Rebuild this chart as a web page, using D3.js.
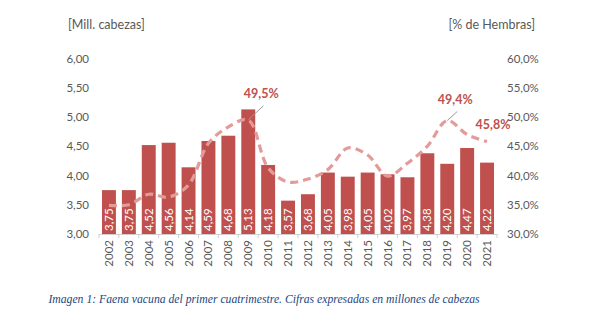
<!DOCTYPE html>
<html lang="es">
<meta charset="utf-8">
<head>
	<title>Faena vacuna</title>
	<script src="https://cdn.jsdelivr.net/npm/d3@7"></script>
</head>
<style type="text/css">
	body { margin: 0; background: white; }
	.axisTitle { font-family: Lato, sans-serif; font-size: 12.5px; fill: #595959; }
	.tick text { font-family: Lato, sans-serif; font-size: 11.5px; fill: #595959; }
	.yearLabel { font-family: Lato, sans-serif; font-size: 11.5px; fill: #595959; }
	.barLabel { font-family: Lato, sans-serif; font-size: 11.5px; fill: white; }
	.pctLabel { font-family: Lato, sans-serif; font-size: 12.5px; font-weight: 700; fill: #c0504d; }
	.caption { font-family: "Liberation Serif", serif; font-style: italic; font-size: 11.7px; fill: #24467e; }
	.bar { fill: #c0504d; }
	.line { fill: none; stroke: #e39b99; stroke-width: 3.2; stroke-dasharray: 8,5; }
	.leader { stroke: #9a9a9a; stroke-width: 1; }
</style>
<body>
<script type="text/javascript">

	var years = ["2002","2003","2004","2005","2006","2007","2008","2009","2010","2011",
				 "2012","2013","2014","2015","2016","2017","2018","2019","2020","2021"];
	var heads = [3.75, 3.75, 4.52, 4.56, 4.14, 4.59, 4.68, 5.13, 4.18, 3.57,
				 3.68, 4.05, 3.98, 4.05, 4.02, 3.97, 4.38, 4.20, 4.47, 4.22];
	var females = [34.9, 35.0, 36.8, 36.3, 38.4, 45.5, 48.3, 49.5, 41.3, 38.9,
				   39.4, 41.0, 44.7, 43.5, 39.9, 42.1, 45.0, 49.4, 47.0, 45.8];
	var leftTicks = [3.0, 3.5, 4.0, 4.5, 5.0, 5.5, 6.0];
	var rightTicks = [30, 35, 40, 45, 50, 55, 60];
	var labelled = ["2009", "2019", "2021"];

	var width = 600, height = 334;
	var x0 = 99, x1 = 497, yTop = 58.5, yBot = 234;

	var svg = d3.select("body").append("svg")
				.attr("width", width)
				.attr("height", height);

	var x = d3.scaleBand().domain(years).range([x0, x1]).paddingInner(0.3).paddingOuter(0.15);
	var yL = d3.scaleLinear().domain([3, 6]).range([yBot, yTop]);
	var yR = d3.scaleLinear().domain([30, 60]).range([yBot, yTop]);

	var fmt = function(v, d) { return v.toFixed(d).replace(".", ","); };

	// left axis
	svg.append("g")
	   .attr("transform", "translate(" + (x0 - 6) + ",0)")
	   .call(d3.axisLeft(yL).tickValues(leftTicks).tickSize(0).tickPadding(4).tickFormat(function(d) { return fmt(d, 2); }))
	   .call(function(g) { g.select(".domain").remove(); });

	// right axis
	svg.append("g")
	   .attr("transform", "translate(" + (x1 + 6) + ",0)")
	   .call(d3.axisRight(yR).tickValues(rightTicks).tickSize(0).tickPadding(4).tickFormat(function(d) { return fmt(d, 1) + "%"; }))
	   .call(function(g) { g.select(".domain").remove(); });

	svg.append("text").attr("class", "axisTitle").attr("x", 68).attr("y", 29).text("[Mill. cabezas]");
	svg.append("text").attr("class", "axisTitle").attr("x", 535).attr("y", 29).attr("text-anchor", "end").text("[% de Hembras]");

	// bars
	svg.selectAll(".bar").data(years).enter().append("rect")
	   .attr("class", "bar")
	   .attr("x", function(d) { return x(d); })
	   .attr("width", x.bandwidth())
	   .attr("y", function(d, i) { return yL(heads[i]); })
	   .attr("height", function(d, i) { return yBot - yL(heads[i]); });

	svg.selectAll(".barLabel").data(years).enter().append("text")
	   .attr("class", "barLabel")
	   .attr("transform", function(d) { return "translate(" + (x(d) + x.bandwidth() / 2 + 4) + "," + (yBot - 3) + ")rotate(-90)"; })
	   .text(function(d, i) { return fmt(heads[i], 2); });

	// baseline with ticks
	svg.append("line").attr("x1", x0).attr("x2", x1).attr("y1", yBot + 0.5).attr("y2", yBot + 0.5)
	   .attr("stroke", "#d0d0d0").attr("stroke-width", 1);
	var step = x.step();
	svg.selectAll(".xtick").data(d3.range(years.length + 1)).enter().append("line")
	   .attr("x1", function(i) { return x0 + i * step; })
	   .attr("x2", function(i) { return x0 + i * step; })
	   .attr("y1", yBot).attr("y2", yBot + 4)
	   .attr("stroke", "#d0d0d0");

	svg.selectAll(".yearLabel").data(years).enter().append("text")
	   .attr("class", "yearLabel")
	   .attr("text-anchor", "end")
	   .attr("transform", function(d) { return "translate(" + (x(d) + x.bandwidth() / 2 + 4) + "," + (yBot + 6) + ")rotate(-90)"; })
	   .text(function(d) { return d; });

	// female share line
	var line = d3.line()
				 .x(function(d, i) { return x(years[i]) + x.bandwidth() / 2; })
				 .y(function(d) { return yR(d); })
				 .curve(d3.curveCatmullRom.alpha(0.5));

	svg.append("path").datum(females).attr("class", "line").attr("d", line);

	// labels for selected points
	var offsets = { "2009": [13, -22, 0, -14], "2019": [8, -17, 0, -9], "2021": [6, -13, null, null] };
	labelled.forEach(function(yr) {
		var i = years.indexOf(yr);
		var px = x(yr) + x.bandwidth() / 2, py = yR(females[i]);
		var o = offsets[yr];
		if (o[2] !== null) {
			svg.append("line").attr("class", "leader")
			   .attr("x1", px).attr("y1", py)
			   .attr("x2", px + o[0] + 2).attr("y2", py + o[3]);
		}
		svg.append("text").attr("class", "pctLabel")
		   .attr("text-anchor", "middle")
		   .attr("x", px + o[0]).attr("y", py + o[1])
		   .text(fmt(females[i], 1) + "%");
	});

	svg.append("text").attr("class", "caption")
	   .attr("x", 264).attr("y", 303).attr("text-anchor", "middle")
	   .text("Imagen 1: Faena vacuna del primer cuatrimestre. Cifras expresadas en millones de cabezas");

</script>
</body>
</html>
